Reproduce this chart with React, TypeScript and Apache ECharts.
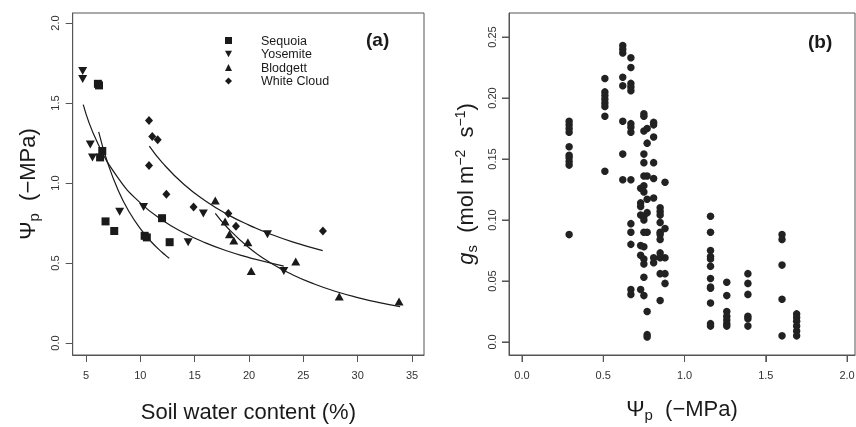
import React, { useEffect, useRef } from "react";
import * as echarts from "echarts";

// ---------- Panel (a) ----------
const swcTicks = [5, 10, 15, 20, 25, 30, 35];
const swcTickLabels = ["5", "10", "15", "20", "25", "30", "35"];
const psiTicksA = [0, 0.5, 1, 1.5, 2];
const psiTickLabelsA = ["0.0", "0.5", "1.0", "1.5", "2.0"];

const sequoia = [[6.1, 1.62], [6.2, 1.61], [6.3, 1.16], [6.5, 1.2], [6.8, 0.76], [7.6, 0.7], [10.4, 0.67], [10.6, 0.66], [12.0, 0.78], [12.7, 0.63]];
const yosemite = [[4.7, 1.7], [4.7, 1.65], [5.4, 1.24], [5.6, 1.16], [8.1, 0.82], [10.3, 0.85], [14.4, 0.63], [15.8, 0.81], [21.7, 0.68], [23.2, 0.45]];
const blodgett = [[16.9, 0.89], [17.8, 0.76], [18.2, 0.68], [18.6, 0.64], [19.9, 0.63], [20.2, 0.45], [24.3, 0.51], [28.3, 0.29], [33.8, 0.26]];
const whiteCloud = [[10.8, 1.39], [11.1, 1.29], [11.6, 1.27], [10.8, 1.11], [12.4, 0.93], [14.9, 0.85], [18.1, 0.81], [18.8, 0.73], [26.8, 0.7]];

const sequoiaFit = [[6.17, 1.32], [7, 1.125], [8, 0.949], [9, 0.817], [10, 0.715], [11, 0.633], [12, 0.567], [12.66, 0.53]];
const yosemiteFit = [[4.75, 1.49], [6, 1.261], [8, 1.027], [10, 0.876], [12, 0.769], [14, 0.689], [16, 0.626], [18, 0.575], [20, 0.534], [23.2, 0.48]];
const blodgettFit = [[16.9, 0.81], [18, 0.722], [20, 0.595], [22, 0.5], [24, 0.427], [26, 0.369], [28, 0.322], [30, 0.284], [32, 0.252], [33.9, 0.227]];
const whiteCloudFit = [[10.83, 1.23], [12, 1.129], [14, 0.992], [16, 0.888], [18, 0.804], [20, 0.737], [22, 0.68], [24, 0.632], [26.78, 0.577]];

// ---------- Panel (b) ----------
const psiTicksB = [0, 0.5, 1, 1.5, 2];
const psiTickLabelsB = ["0.0", "0.5", "1.0", "1.5", "2.0"];
const gsTicks = [0, 0.05, 0.1, 0.15, 0.2, 0.25];
const gsTickLabels = ["0.0", "0.05", "0.10", "0.15", "0.20", "0.25"];

const psiColumns = [0.29, 0.51, 0.62, 0.67, 0.73, 0.75, 0.77, 0.81, 0.85, 0.88, 1.16, 1.26, 1.39, 1.6, 1.69];
const gsByColumn = [
  [0.181, 0.178, 0.175, 0.172, 0.16, 0.153, 0.151, 0.148, 0.145, 0.088],
  [0.216, 0.205, 0.202, 0.199, 0.196, 0.193, 0.185, 0.14],
  [0.243, 0.24, 0.237, 0.217, 0.21, 0.181, 0.154, 0.133],
  [0.233, 0.225, 0.212, 0.209, 0.206, 0.179, 0.176, 0.172, 0.133, 0.097, 0.09, 0.08, 0.043, 0.039],
  [0.126, 0.114, 0.111, 0.104, 0.079, 0.071, 0.043],
  [0.187, 0.185, 0.173, 0.154, 0.147, 0.136, 0.128, 0.123, 0.103, 0.1, 0.09, 0.078, 0.068, 0.064, 0.053, 0.038],
  [0.175, 0.163, 0.136, 0.117, 0.106, 0.09, 0.025, 0.006, 0.004],
  [0.18, 0.178, 0.168, 0.147, 0.134, 0.118, 0.069, 0.065],
  [0.11, 0.107, 0.104, 0.098, 0.09, 0.088, 0.084, 0.073, 0.069, 0.056, 0.034],
  [0.131, 0.093, 0.069, 0.056, 0.048],
  [0.103, 0.09, 0.075, 0.07, 0.068, 0.062, 0.052, 0.045, 0.044, 0.032, 0.015, 0.013],
  [0.049, 0.038, 0.025, 0.021, 0.018, 0.015, 0.013],
  [0.056, 0.048, 0.039, 0.021, 0.019, 0.013],
  [0.088, 0.084, 0.063, 0.035, 0.005],
  [0.023, 0.02, 0.017, 0.013, 0.009, 0.005],
];

const FONT = "Liberation Sans, Arial, Helvetica, sans-serif";
const INK = "#1a1a1a";
const BOX = "#555";
const downTri = "path://M0,0 L10,0 L5,9 Z";
const X_MIN_B = -0.08;
const X_MAX_B = 2.049;
const Y_MIN_B = -0.0107;
const Y_MAX_B = 0.2697;

function labelFrom(ticks: number[], labels: string[]) {
  return (v: number) => {
    const i = ticks.findIndex((t) => Math.abs(t - v) < 1e-9);
    return i >= 0 ? labels[i] : "";
  };
}

function axis(extra: any, ticks: number[], labels: string[], rotate = 0, margin = 10) {
  return {
    type: "value",
    axisLine: { show: true, onZero: false, lineStyle: { color: BOX, width: 1 } },
    splitLine: { show: false },
    axisTick: { show: true, inside: false, length: 7, customValues: ticks, lineStyle: { color: BOX, width: 1 } },
    axisLabel: {
      customValues: ticks,
      formatter: labelFrom(ticks, labels),
      rotate,
      margin,
      fontSize: 11,
      color: "#333",
      fontFamily: FONT,
    },
    ...extra,
  };
}

const psiRich = {
  a: { fontSize: 22, color: INK, fontFamily: FONT },
  s: { fontSize: 15, color: INK, fontFamily: FONT, padding: [12, 0, 0, 0] },
};

export default function App() {
  const ref = useRef<HTMLDivElement>(null);
  useEffect(() => {
    if (!ref.current) return;
    document.body.style.margin = "0";
    const chart = echarts.init(ref.current, undefined, { renderer: "svg" });
    const ptsB: number[][] = [];
    psiColumns.forEach((x, i) => gsByColumn[i].forEach((y) => ptsB.push([x, y])));

    const fitLine = (data: number[][]) => ({
      type: "line",
      xAxisIndex: 0,
      yAxisIndex: 0,
      data,
      smooth: true,
      showSymbol: false,
      symbol: "none",
      silent: true,
      lineStyle: { color: INK, width: 1.2 },
      z: 1,
    });
    const scat = (name: string, data: number[][], symbol: string, size: any) => ({
      type: "scatter",
      name,
      xAxisIndex: 0,
      yAxisIndex: 0,
      data,
      symbol,
      symbolSize: size,
      itemStyle: { color: INK, opacity: 1 },
      z: 3,
    });

    const labelsGraphic = [
      { type: "text", left: 366, top: 30, style: { text: "(a)", font: `bold 19px ${FONT}`, fill: INK } },
      { type: "text", left: 808, top: 32, style: { text: "(b)", font: `bold 19px ${FONT}`, fill: INK } },
    ];

    chart.setOption({
      animation: false,
      textStyle: { fontFamily: FONT },
      grid: [
        { left: 72.7, top: 13, width: 351.3, height: 342, show: true, borderColor: BOX, borderWidth: 1, backgroundColor: "transparent", outerBoundsMode: "none" },
        { left: 509, top: 13, width: 346, height: 342, show: true, borderColor: BOX, borderWidth: 1, backgroundColor: "transparent", outerBoundsMode: "none" },
      ],
      legend: {
        data: ["Sequoia", "Yosemite", "Blodgett", "White Cloud"],
        orient: "vertical",
        left: 220,
        top: 29,
        itemWidth: 7,
        itemHeight: 7,
        itemGap: 0.5,
        selectedMode: false,
        formatter: (name: string) => `{p| }{n|${name}}`,
        textStyle: {
          color: INK,
          fontFamily: FONT,
          rich: {
            p: { width: 24, fontSize: 12.5, lineHeight: 14 },
            n: { fontSize: 12.5, lineHeight: 14, color: INK, fontFamily: FONT },
          },
        },
      },
      xAxis: [
        axis(
          {
            gridIndex: 0,
            position: "bottom",
            min: 3.78,
            max: 36.1,
            name: "Soil water content (%)",
            nameLocation: "middle",
            nameGap: 45,
            nameTextStyle: { fontSize: 22, color: INK, fontFamily: FONT },
          },
          swcTicks,
          swcTickLabels,
          0,
          14
        ),
        axis(
          {
            gridIndex: 1,
            position: "bottom",
            min: X_MIN_B,
            max: X_MAX_B,
            name: "{a|Ψ}{s|p}{a|  (−MPa)}",
            nameLocation: "middle",
            nameGap: 40,
            nameTextStyle: { rich: psiRich },
          },
          psiTicksB,
          psiTickLabelsB,
          0,
          14
        ),
      ],
      yAxis: [
        axis(
          {
            gridIndex: 0,
            position: "left",
            min: -0.075,
            max: 2.0625,
            name: "{a|Ψ}{s|p}{a|  (−MPa)}",
            nameLocation: "middle",
            nameGap: 32,
            nameTextStyle: { rich: psiRich },
          },
          psiTicksA,
          psiTickLabelsA,
          90,
          12
        ),
        axis(
          {
            gridIndex: 1,
            position: "left",
            min: Y_MIN_B,
            max: Y_MAX_B,
            name: "{i|g}{s|s}{a|  (mol m}{sup|−2}{a|  s}{sup|−1}{a|)}",
            nameLocation: "middle",
            nameGap: 30,
            nameTextStyle: {
              rich: {
                a: { fontSize: 22, color: INK, fontFamily: FONT },
                i: { fontSize: 22, color: INK, fontFamily: FONT, fontStyle: "italic" },
                s: { fontSize: 15, color: INK, fontFamily: FONT, padding: [12, 0, 0, 0] },
                sup: { fontSize: 14, color: INK, fontFamily: FONT, padding: [0, 0, 12, 0] },
              },
            },
          },
          gsTicks,
          gsTickLabels,
          90,
          12
        ),
      ],
      graphic: labelsGraphic,
      series: [
        fitLine(sequoiaFit),
        fitLine(yosemiteFit),
        fitLine(blodgettFit),
        fitLine(whiteCloudFit),
        scat("Sequoia", sequoia, "rect", 8),
        scat("Yosemite", yosemite, downTri, [9, 8]),
        scat("Blodgett", blodgett, "triangle", [9, 8]),
        scat("White Cloud", whiteCloud, "diamond", [8, 9]),
        {
          type: "scatter",
          xAxisIndex: 1,
          yAxisIndex: 1,
          data: ptsB,
          symbol: "circle",
          symbolSize: 7.5,
          itemStyle: { color: "#222", opacity: 1 },
        },
      ],
    });

    // Panel (b) tick marks, positioned through the chart's own scales
    const tickLines: any[] = [];
    psiTicksB.forEach((v) => {
      const p = chart.convertToPixel({ gridIndex: 1 }, [v, Y_MIN_B]) as number[];
      if (p && isFinite(p[0])) {
        tickLines.push({ type: "line", silent: true, shape: { x1: p[0], y1: p[1], x2: p[0], y2: p[1] + 7 }, style: { stroke: BOX, lineWidth: 1 } });
      }
    });
    gsTicks.forEach((v) => {
      const p = chart.convertToPixel({ gridIndex: 1 }, [X_MIN_B, v]) as number[];
      if (p && isFinite(p[1])) {
        tickLines.push({ type: "line", silent: true, shape: { x1: p[0] - 7, y1: p[1], x2: p[0], y2: p[1] }, style: { stroke: BOX, lineWidth: 1 } });
      }
    });
    chart.setOption({ graphic: [...labelsGraphic, ...tickLines] });

    return () => chart.dispose();
  }, []);
  return <div ref={ref} style={{ position: "fixed", left: 0, top: 0, width: 856, height: 427 }} />;
}
